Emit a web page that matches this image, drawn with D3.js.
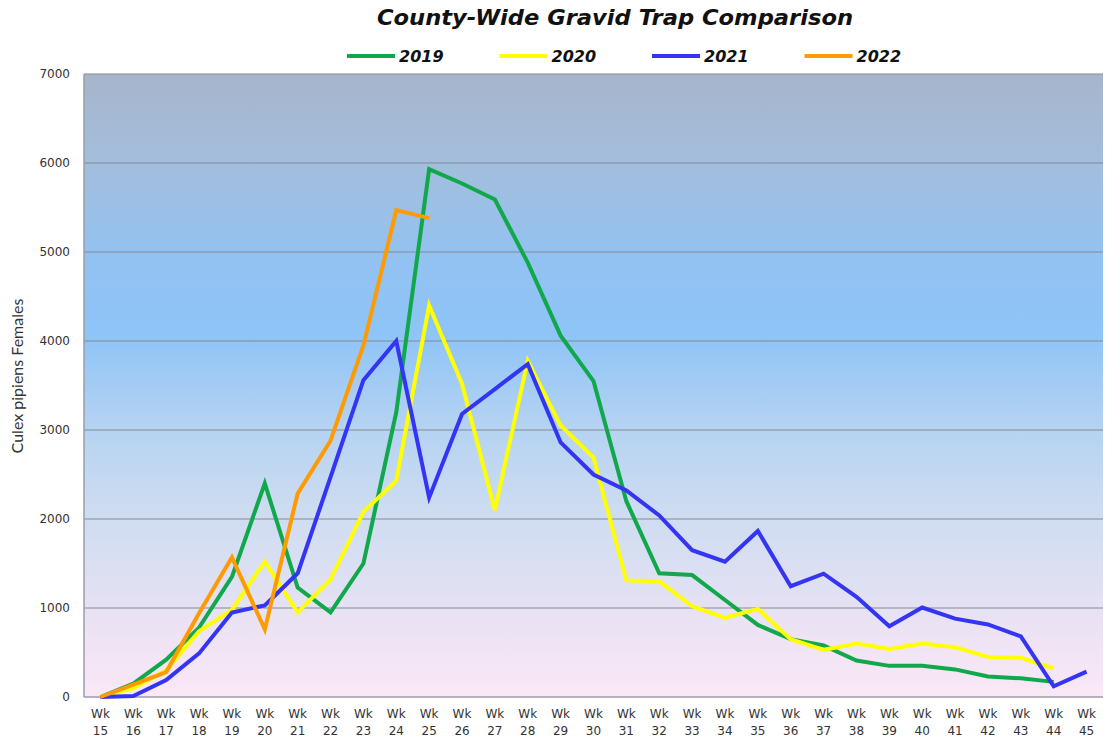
<!DOCTYPE html>
<html>
<head>
<meta charset="utf-8">
<script src="https://cdn.jsdelivr.net/npm/d3@7"></script>
<style>
    body { margin: 0; background: #fff; }
    svg { display: block; }
</style>
</head>
<body>
<div id="chart"></div>
<script>
// week labels on the x axis
const weeks = ["15", "16", "17", "18", "19", "20", "21", "22", "23", "24", "25", "26", "27", "28", "29", "30",
    "31", "32", "33", "34", "35", "36", "37", "38", "39", "40", "41", "42", "43", "44", "45"];

const years = ["2019", "2020", "2021", "2022"];
const yTicks = [0, 1000, 2000, 3000, 4000, 5000, 6000, 7000];

// counts per week (null = no data)
const counts2019 = [0, 150, 420, 780, 1350, 2400, 1230, 950, 1500, 3200, 5930, 5770, 5590, 4880, 4060, 3550,
    2200, 1390, 1370, 1090, 810, 650, 580, 410, 350, 350, 310, 230, 210, 170, null];
const counts2020 = [0, 100, 300, 740, 980, 1520, 950, 1320, 2080, 2430, 4400, 3520, 2100, 3780, 3050, 2690,
    1310, 1300, 1020, 890, 990, 650, 530, 600, 540, 600, 560, 450, 440, 320, null];
const counts2021 = [0, 10, 190, 490, 950, 1030, 1390, 2470, 3560, 4000, 2240, 3180, 3460, 3740, 2860, 2500,
    2320, 2040, 1650, 1520, 1865, 1245, 1385, 1125, 795, 1005, 880, 815, 680, 120, 285];
const counts2022 = [0, 140, 280, 940, 1570, 760, 2285, 2880, 3950, 5470, 5380, null, null, null, null, null,
    null, null, null, null, null, null, null, null, null, null, null, null, null, null, null];

const lineColors = ["#10a84a", "#ffff00", "#3434f4", "#ff9a00"];

class GravidChart {

    constructor(_config) {
        this.config = {
            parentElement: _config.parentElement,
            containerWidth: 1105,
            containerHeight: 738,
            margin: { top: 74, right: 2, bottom: 41, left: 84 }
        }
        this.series = [counts2019, counts2020, counts2021, counts2022];
        this.initVis();
    }

    initVis() {
        let vis = this;

        vis.width = vis.config.containerWidth - vis.config.margin.left - vis.config.margin.right;
        vis.height = vis.config.containerHeight - vis.config.margin.top - vis.config.margin.bottom;

        vis.svg = d3.select(vis.config.parentElement)
            .append("svg")
            .attr("width", vis.config.containerWidth)
            .attr("height", vis.config.containerHeight)
            .style("font-family", "'DejaVu Sans', sans-serif");

        // plot background gradient (grey-blue top to pink bottom)
        let grad = vis.svg.append("defs").append("linearGradient")
            .attr("id", "plotBg")
            .attr("x1", 0).attr("y1", 0).attr("x2", 0).attr("y2", 1);
        [[0, "#a6b5cb"], [0.14, "#a3bedc"], [0.3, "#92c2f2"], [0.42, "#8ec4f7"], [0.56, "#b3d2f2"],
            [0.7, "#cddcf1"], [0.82, "#dfe0f3"], [0.9, "#eee3f4"], [1, "#fae8f6"]]
            .forEach(s => grad.append("stop").attr("offset", s[0]).attr("stop-color", s[1]));

        vis.xScale = d3.scalePoint()
            .domain(weeks)
            .range([0, vis.width])
            .padding(0.5);

        vis.yScale = d3.scaleLinear()
            .domain([0, 7000])
            .range([vis.height, 0]);

        vis.chart = vis.svg.append("g")
            .attr("transform", `translate(${vis.config.margin.left},${vis.config.margin.top})`);

        vis.chart.append("rect")
            .attr("width", vis.width)
            .attr("height", vis.height)
            .attr("fill", "url(#plotBg)");

        // title
        vis.svg.append("text")
            .attr("x", 615)
            .attr("y", 25)
            .attr("text-anchor", "middle")
            .attr("font-size", "21px")
            .attr("font-weight", "bold")
            .attr("font-style", "italic")
            .attr("fill", "#111")
            .attr("textLength", 476)
            .attr("lengthAdjust", "spacingAndGlyphs")
            .text("County-Wide Gravid Trap Comparison");

        // legend
        let legend = vis.svg.append("g")
            .attr("transform", "translate(347,56)");
        years.forEach((yr, i) => {
            let item = legend.append("g").attr("transform", `translate(${i * 152.5},0)`);
            item.append("line")
                .attr("x1", 0).attr("x2", 48)
                .attr("stroke", lineColors[i])
                .attr("stroke-width", 4);
            item.append("text")
                .attr("x", 52)
                .attr("y", 6)
                .attr("font-size", "16px")
                .attr("font-weight", "bold")
                .attr("font-style", "italic")
                .attr("fill", "#111")
                .text(yr);
        });

        // y axis label
        vis.svg.append("text")
            .attr("transform", "translate(23,376) rotate(-90)")
            .attr("text-anchor", "middle")
            .attr("font-family", "Lato, 'Open Sans', sans-serif")
            .attr("font-size", "16px")
            .attr("fill", "#333")
            .text("Culex pipiens  Females");

        vis.renderVis();
    }

    renderVis() {
        let vis = this;

        // gridlines
        vis.chart.selectAll(".grid")
            .data(yTicks.slice(1))
            .enter()
            .append("line")
            .attr("x1", 0)
            .attr("x2", vis.width)
            .attr("y1", d => vis.yScale(d))
            .attr("y2", d => vis.yScale(d))
            .attr("stroke", "#858a94")
            .attr("stroke-width", 1.2);

        // axis borders
        vis.chart.append("line")
            .attr("x1", 0).attr("x2", 0)
            .attr("y1", 0).attr("y2", vis.height)
            .attr("stroke", "#9a9ea6").attr("stroke-width", 1.5);
        vis.chart.append("line")
            .attr("x1", 0).attr("x2", vis.width)
            .attr("y1", vis.height).attr("y2", vis.height)
            .attr("stroke", "#9a9ea6").attr("stroke-width", 1.5);

        // y tick labels
        vis.chart.selectAll(".ylab")
            .data(yTicks)
            .enter()
            .append("text")
            .attr("x", -14)
            .attr("y", d => vis.yScale(d) + 4)
            .attr("text-anchor", "end")
            .attr("font-size", "12px")
            .attr("fill", "#333")
            .text(d => d);

        // x tick labels, two lines
        let xlab = vis.chart.selectAll(".xlab")
            .data(weeks)
            .enter()
            .append("text")
            .attr("text-anchor", "middle")
            .attr("font-size", "12px")
            .attr("fill", "#333");
        xlab.append("tspan")
            .attr("x", d => vis.xScale(d))
            .attr("y", vis.height + 21)
            .text("Wk");
        xlab.append("tspan")
            .attr("x", d => vis.xScale(d))
            .attr("y", vis.height + 38)
            .text(d => d);

        let line = d3.line()
            .defined(d => d[1] !== null)
            .x(d => vis.xScale(d[0]))
            .y(d => vis.yScale(d[1]));

        vis.series.forEach((values, i) => {
            vis.chart.append("path")
                .datum(weeks.map((w, j) => [w, values[j]]))
                .attr("fill", "none")
                .attr("stroke", lineColors[i])
                .attr("stroke-width", 4)
                .attr("stroke-linejoin", "miter")
                .attr("d", line);
        });
    }
}

new GravidChart({ parentElement: "#chart" });
</script>
</body>
</html>
